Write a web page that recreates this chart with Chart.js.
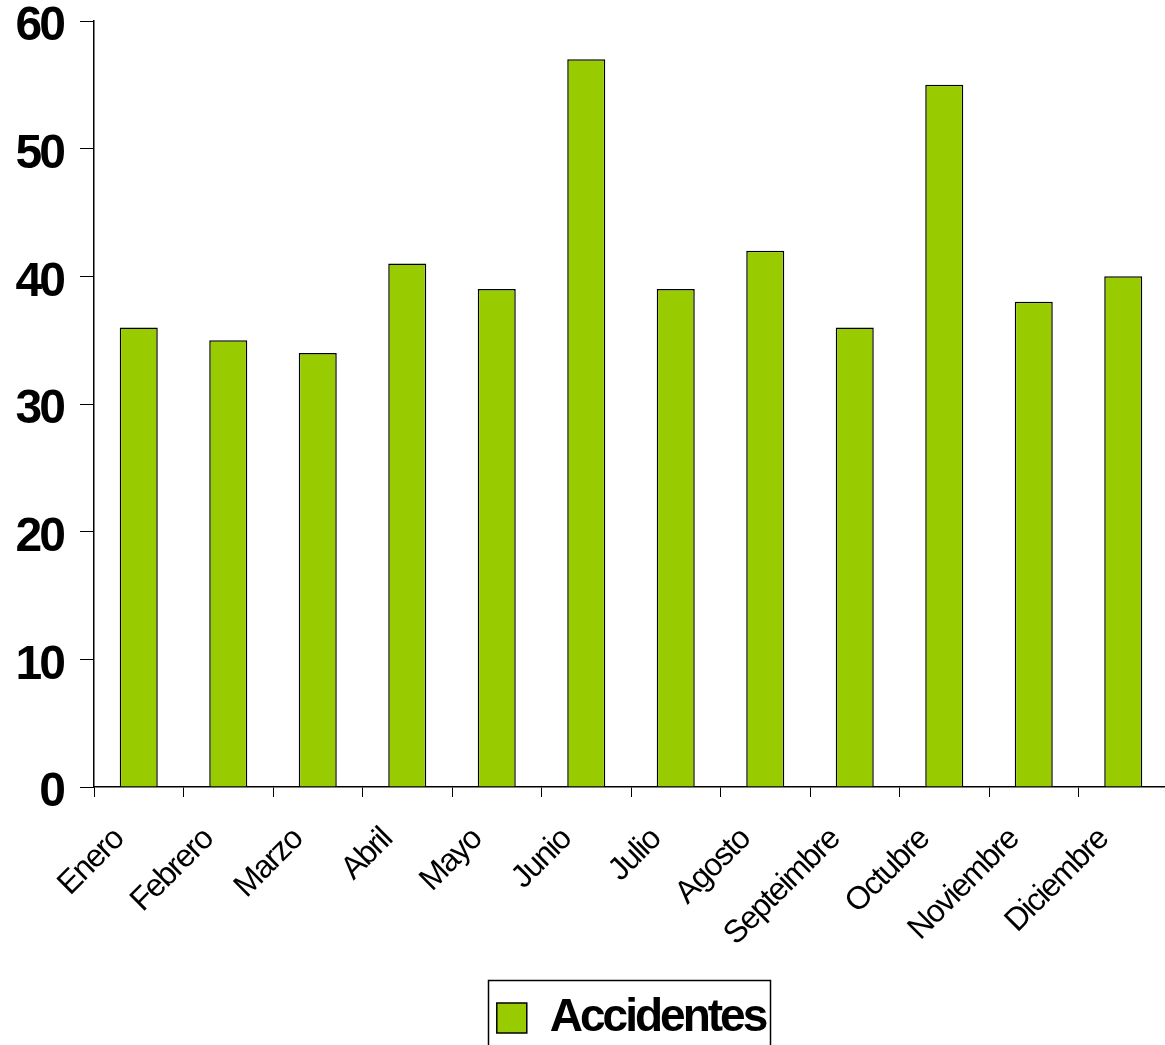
<!DOCTYPE html>
<html><head><meta charset="utf-8">
<script src="https://cdn.jsdelivr.net/npm/chart.js@4.4.0/dist/chart.umd.min.js"></script>
<style>html,body{margin:0;padding:0;overflow:hidden;background:#fff}
#wrap{position:absolute;left:0;top:0;width:1180px;height:1070px}</style>
</head><body><div id="wrap"><canvas id="c" width="1180" height="1070"></canvas></div>
<script>
const categories = ['Enero','Febrero','Marzo','Abril','Mayo','Junio','Julio','Agosto','Septeimbre','Octubre','Noviembre','Diciembre'];
const accidentes = [36,35,34,41,39,57,39,42,36,55,38,40];
const seriesName = 'Accidentes';
const yMin = 0, yMax = 60, yStep = 10;

const canvas = document.getElementById('c');
const ctx = canvas.getContext('2d');
const spacingFor = f => /bold/.test(f) ? '-3px' : '-1.5px';
const oFill = CanvasRenderingContext2D.prototype.fillText;
const oMeasure = CanvasRenderingContext2D.prototype.measureText;
ctx.fillText = function(...a){ this.letterSpacing = spacingFor(this.font); return oFill.apply(this, a); };
ctx.measureText = function(...a){ this.letterSpacing = spacingFor(this.font); return oMeasure.apply(this, a); };

const FONT = "'Liberation Sans', Arial, sans-serif";

const legendShift = {
  id: 'legendShift',
  afterLayout(chart){
    const l = chart.legend;
    if (!l) return;
    l.left += 47; l.right += 47;
  }
};

const legendFrame = {
  id: 'legendFrame',
  afterDraw(chart){
    const l = chart.legend;
    if (!l || !l.legendHitBoxes || !l.legendHitBoxes.length) return;
    const hb = l.legendHitBoxes[0];
    const c = chart.ctx;
    c.save();
    c.strokeStyle = '#000';
    c.lineWidth = 1.5;
    const left = hb.left - 9, top = hb.top + hb.height/2 - 38;
    const right = hb.left + hb.width + 5;
    c.strokeRect(Math.round(left)+0.5, Math.round(top)+0.5, Math.round(right-left), 200);
    c.restore();
  }
};

new Chart(ctx, {
  type: 'bar',
  data: {
    labels: categories,
    datasets: [{
      label: seriesName,
      data: accidentes,
      backgroundColor: '#99CC00',
      borderColor: '#000000',
      borderWidth: 1.5,
      barPercentage: 0.425,
      categoryPercentage: 1.0
    }]
  },
  options: {
    responsive: false,
    devicePixelRatio: 1,
    animation: false,
    layout: { padding: { top: 21, left: 0, right: 12, bottom: 19 } },
    plugins: {
      tooltip: { enabled: false },
      legend: {
        position: 'bottom',
        labels: {
          color: '#000',
          font: { family: FONT, size: 46, weight: 'bold' },
          boxWidth: 30, boxHeight: 30,
          padding: 10
        }
      }
    },
    scales: {
      x: {
        grid: { display: true, drawOnChartArea: false, drawTicks: true, tickLength: 10, color: '#000', offset: true },
        border: { display: true, color: '#000', width: 1.5 },
        ticks: { color: '#000', font: { family: FONT, size: 32 }, minRotation: 45, maxRotation: 45, autoSkip: false, padding: 24, labelOffset: -20 },
        afterFit(s){ s.height = 198; s.paddingLeft = 0; s.paddingRight = 0; }
      },
      y: {
        min: yMin, max: yMax,
        grid: { display: true, drawOnChartArea: false, drawTicks: true, tickLength: 14, color: '#000' },
        border: { display: true, color: '#000', width: 1.5 },
        ticks: { stepSize: yStep, color: '#000', font: { family: FONT, size: 48, weight: 'bold' }, padding: 17, labelOffset: 6 },
        afterFit(s){ s.width = 94; s.paddingTop = 0; s.paddingBottom = 0; }
      }
    }
  },
  plugins: [legendShift, legendFrame]
});
</script></body></html>
